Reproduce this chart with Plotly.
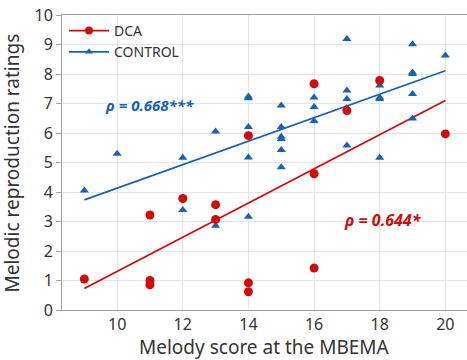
import plotly.graph_objects as go

# DCA group
dca_x = [9, 11, 11, 11, 12, 13, 13, 14, 14, 14, 16, 16, 16, 17, 18, 20]
dca_y = [1.05, 3.22, 1.0, 0.85, 3.78, 3.57, 3.07, 5.91, 0.92, 0.62, 7.67, 4.62, 1.42, 6.76, 7.78, 5.97]

# CONTROL group
ctrl_x = [9, 10, 12, 12, 13, 13, 14, 14, 14, 14, 14, 15, 15, 15, 15, 15, 15,
          16, 16, 16, 17, 17, 17, 17, 17, 18, 18, 18, 18, 19, 19, 19, 19, 19, 20]
ctrl_y = [4.05, 5.30, 5.16, 3.39, 6.05, 2.86, 7.24, 7.18, 6.2, 5.17, 3.16, 6.93, 6.2, 5.87, 5.8, 5.42, 4.84,
          7.2, 6.88, 6.41, 9.19, 7.44, 7.15, 6.85, 5.58, 7.61, 7.2, 7.15, 5.16, 9.01, 8.05, 8.0, 7.32, 6.49, 8.63]

# Regression lines
fit_x = [9, 20]
dca_fit = [0.73, 7.10]
ctrl_fit = [3.73, 8.11]

x_ticks = [10, 12, 14, 16, 18, 20]
y_ticks = list(range(0, 11))

x_title = "Melody score at the MBEMA"
y_title = "Melodic reproduction ratings"

RED = "#d10a0a"
BLUE = "#1660b8"
FONT = "Noto Sans"

fig = go.Figure()
fig.add_trace(go.Scatter(x=fit_x, y=ctrl_fit, mode="lines", line=dict(color=BLUE, width=1.8), showlegend=False))
fig.add_trace(go.Scatter(x=fit_x, y=dca_fit, mode="lines", line=dict(color=RED, width=1.8), showlegend=False))
fig.add_trace(go.Scatter(x=ctrl_x, y=ctrl_y, mode="markers",
                         marker=dict(symbol="triangle-up", size=8, color=BLUE), showlegend=False))
fig.add_trace(go.Scatter(x=dca_x, y=dca_y, mode="markers",
                         marker=dict(symbol="circle", size=9, color=RED), showlegend=False))
# legend entries
fig.add_trace(go.Scatter(x=[None], y=[None], mode="lines+markers", name="DCA",
                         line=dict(color=RED, width=1.8), marker=dict(symbol="circle", size=8, color=RED)))
fig.add_trace(go.Scatter(x=[None], y=[None], mode="lines+markers", name="CONTROL",
                         line=dict(color=BLUE, width=1.8), marker=dict(symbol="triangle-up", size=7, color=BLUE)))

fig.add_annotation(x=11.0, y=6.96, text="<b><i>ρ = 0.668***</i></b>", showarrow=False,
                   font=dict(family=FONT, size=15, color=BLUE))
fig.add_annotation(x=18.1, y=3.04, text="<b><i>ρ = 0.644*</i></b>", showarrow=False,
                   font=dict(family=FONT, size=16, color=RED))

# axis titles
fig.add_annotation(xref="paper", yref="paper", x=0.5, y=-0.124, yanchor="middle", text=x_title,
                   showarrow=False, font=dict(family=FONT, size=19, color="#333333"))
fig.add_annotation(xref="paper", yref="paper", x=-0.1235, y=0.5, xanchor="center", text=y_title,
                   textangle=-90, showarrow=False, font=dict(family=FONT, size=19, color="#333333"))

fig.update_layout(
    width=467, height=360,
    margin=dict(l=62, r=0, t=15, b=50),
    paper_bgcolor="white", plot_bgcolor="white",
    font=dict(family=FONT, color="#333333", size=14),
    legend=dict(x=0.005, y=1.0, xanchor="left", yanchor="top", bgcolor="rgba(255,255,255,0)",
                font=dict(size=14, color="#333333"), itemwidth=40, tracegroupgap=0),
    xaxis=dict(range=[8.32, 20.66], tickvals=x_ticks, showgrid=True, gridcolor="#e4e4e4",
               showline=True, linecolor="#a0a0a0", mirror=True, zeroline=False, automargin=False,
               tickfont=dict(size=16), ticks="", ticklabeloverflow="allow"),
    yaxis=dict(range=[0, 10], tickvals=y_ticks, showgrid=True, gridcolor="#e4e4e4",
               showline=True, linecolor="#a0a0a0", zeroline=False, ticks="outside", ticklen=5,
               tickcolor="#a0a0a0", tickfont=dict(size=16), automargin=False,
               ticklabeloverflow="allow"),
)

# remove the default 8px page margin so the figure fills the window exactly
fig.write_html("out.html", config={"displayModeBar": False},
               post_script="document.body.style.margin='0';")
